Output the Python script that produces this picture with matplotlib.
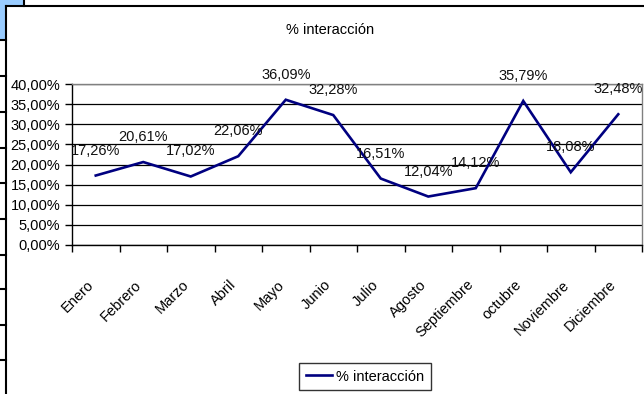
import matplotlib
matplotlib.use("Agg")
import matplotlib.pyplot as plt
from matplotlib.lines import Line2D
from matplotlib.patches import Rectangle
from matplotlib.ticker import FixedLocator, FuncFormatter
from matplotlib.transforms import ScaledTranslation

# Monthly interaction rate (fraction)
meses = ["Enero", "Febrero", "Marzo", "Abril", "Mayo", "Junio", "Julio",
         "Agosto", "Septiembre", "octubre", "Noviembre", "Diciembre"]
interaccion = [0.1726, 0.2061, 0.1702, 0.2206, 0.3609, 0.3228, 0.1651,
               0.1204, 0.1412, 0.3579, 0.1808, 0.3248]
serie = "% interacción"
titulo = "% interacción"
y_ticks = [0.00, 0.05, 0.10, 0.15, 0.20, 0.25, 0.30, 0.35, 0.40]

W, H, DPI = 644, 394, 100
plt.rcParams["font.family"] = ["Liberation Sans", "DejaVu Sans"]
FS = 10.5


def pct(v, _=None):
    return f"{v * 100:.2f}%".replace(".", ",")


def fx(px):
    return px / W


def fy(py):
    return 1 - py / H


fig = plt.figure(figsize=(W / DPI, H / DPI), dpi=DPI)
fig.patch.set_facecolor("white")

# Spreadsheet cells peeking out behind the chart
blue = "#99CCFF"
fig.add_artist(Rectangle((fx(0), fy(6)), fx(24), 6 / H, transform=fig.transFigure,
                         facecolor=blue, edgecolor="none", zorder=0))
fig.add_artist(Rectangle((fx(0), fy(40)), fx(6), 40 / H, transform=fig.transFigure,
                         facecolor=blue, edgecolor="none", zorder=0))
fig.add_artist(Line2D([fx(24), fx(24)], [fy(0), fy(6)], transform=fig.transFigure,
                      color="black", lw=1.5))
for yy in [40, 76, 112, 148, 183, 219, 255, 289, 325, 360]:
    fig.add_artist(Line2D([fx(0), fx(6)], [fy(yy), fy(yy)], transform=fig.transFigure,
                          color="black", lw=1.5))

# Chart area border
fig.add_artist(Line2D([fx(6), fx(6)], [fy(6), fy(H + 5)], transform=fig.transFigure,
                      color="black", lw=1.5))
fig.add_artist(Line2D([fx(6), fx(W + 5)], [fy(6), fy(6)], transform=fig.transFigure,
                      color="black", lw=1.5))

# Plot area
left, right, top, bottom = 72, 642, 84, 245
ax = fig.add_axes([fx(left), fy(bottom), (right - left) / W, (bottom - top) / H])
ax.set_facecolor("white")

x = list(range(len(meses)))
line, = ax.plot(x, interaccion, color="#000080", lw=1.9, label=serie, zorder=3,
                solid_joinstyle="miter")

for xi, v in zip(x, interaccion):
    ax.annotate(pct(v), (xi, v), xytext=(0, 18), textcoords="offset points",
                ha="center", va="center", fontsize=FS, color="#111111", zorder=4,
                annotation_clip=False)

ax.set_xlim(-0.5, len(meses) - 0.5)
ax.set_ylim(0, 0.40)
ax.yaxis.set_major_locator(FixedLocator(y_ticks))
ax.yaxis.set_major_formatter(FuncFormatter(pct))
ax.grid(axis="y", color="black", lw=0.9, zorder=1)

ax.xaxis.set_major_locator(FixedLocator(x))
ax.xaxis.set_minor_locator(FixedLocator([i - 0.5 for i in range(len(meses) + 1)]))
ax.set_xticklabels(meses, rotation=45, ha="right", va="center", rotation_mode="anchor",
                   fontsize=FS)
ax.tick_params(axis="x", which="major", length=0, pad=27)
ax.tick_params(axis="x", which="minor", length=5, width=1, color="black", direction="out")
ax.tick_params(axis="y", length=5, width=1, color="black", direction="out",
               labelsize=FS, pad=3.5)
shift = ScaledTranslation(-4 / DPI, 0, fig.dpi_scale_trans)
for lbl in ax.get_xticklabels():
    lbl.set_transform(lbl.get_transform() + shift)

for s in ["left", "bottom"]:
    ax.spines[s].set_color("black")
    ax.spines[s].set_linewidth(1.0)
for s in ["top", "right"]:
    ax.spines[s].set_color("#808080")
    ax.spines[s].set_linewidth(1.0)

fig.text(fx(330), fy(30), titulo, ha="center", va="center", fontsize=FS)

leg = fig.legend(handles=[line], loc="upper left",
                 bbox_to_anchor=(fx(299), fy(363)), bbox_transform=fig.transFigure,
                 fontsize=FS, frameon=True, fancybox=False, handlelength=1.8,
                 handletextpad=0.3, borderpad=0.45, borderaxespad=0)
leg.get_frame().set_edgecolor("black")
leg.get_frame().set_linewidth(1.0)

fig.savefig("out.png", dpi=DPI, facecolor="white")
